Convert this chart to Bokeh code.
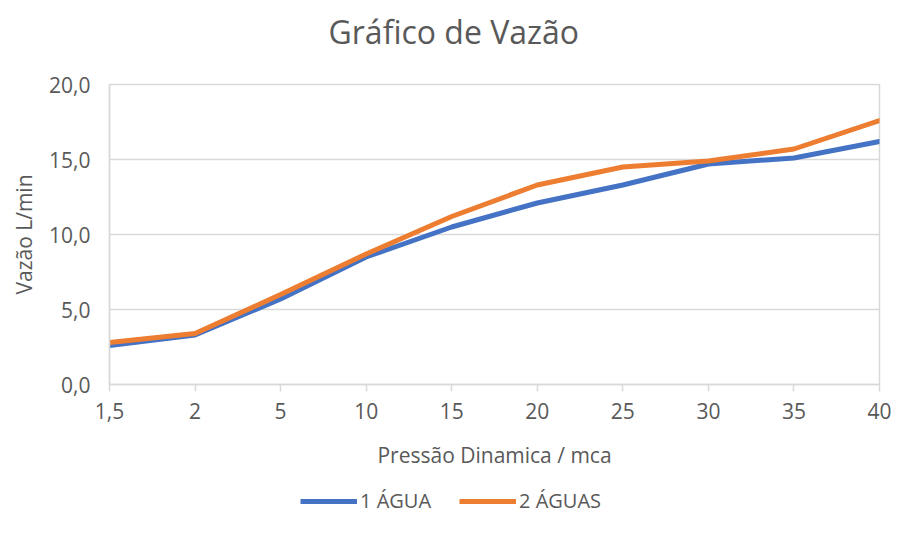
from bokeh.plotting import figure
from bokeh.layouts import column
from bokeh.models import (ColumnDataSource, FixedTicker, Legend, LegendItem,
                          Range1d, Title)
from bokeh.embed import file_html
from bokeh.resources import INLINE

# ---- data ----
pressures = ["1,5", "2", "5", "10", "15", "20", "25", "30", "35", "40"]
agua1 = [2.6, 3.3, 5.7, 8.5, 10.5, 12.1, 13.3, 14.7, 15.1, 16.2]
agua2 = [2.8, 3.4, 6.0, 8.7, 11.2, 13.3, 14.5, 14.9, 15.7, 17.6]
y_ticks = [0, 5, 10, 15, 20]
y_tick_labels = ["0,0", "5,0", "10,0", "15,0", "20,0"]
title_text = "Gráfico de Vazão"
x_title = "Pressão Dinamica / mca"
y_title = "Vazão L/min"
series_names = ["1 ÁGUA", "2 ÁGUAS"]

FONT = "Open Sans"
TXT = "#595959"
GRID = "#d9d9d9"
BLUE = "#4472C4"
ORANGE = "#ED7D31"
COLORS = [BLUE, ORANGE]

idx = list(range(len(pressures)))
src = ColumnDataSource(dict(x=idx, a1=agua1, a2=agua2))

p = figure(width=891, height=484, output_backend="svg", toolbar_location=None,
           x_range=Range1d(0, len(pressures) - 1), y_range=Range1d(0, 20),
           min_border_left=109, min_border_right=12, min_border_top=84,
           min_border_bottom=100)
p.background_fill_color = "white"
p.border_fill_color = "white"
p.outline_line_color = GRID
p.outline_line_width = 1.5
p.title.text = ""

# spacer between title and plot area, then the title itself
p.add_layout(Title(text=" ", text_font=FONT, text_font_size="22px",
                   standoff=0), "above")
p.add_layout(Title(text=title_text, align="left", offset=219,
                   text_font=FONT, text_font_size="32px",
                   text_font_style="normal", text_color=TXT, standoff=0),
             "above")

# axes
p.xaxis.ticker = FixedTicker(ticks=idx)
p.xaxis.major_label_overrides = {i: s for i, s in zip(idx, pressures)}
p.yaxis.ticker = FixedTicker(ticks=y_ticks)
p.yaxis.major_label_overrides = {t: s for t, s in zip(y_ticks, y_tick_labels)}
for ax in (p.xaxis, p.yaxis):
    ax.axis_line_color = GRID
    ax.axis_line_width = 1.5
    ax.major_tick_line_color = GRID
    ax.major_tick_line_width = 1.5
    ax.minor_tick_line_color = None
    ax.major_label_text_font = FONT
    ax.major_label_text_font_size = "21px"
    ax.major_label_text_color = TXT
    ax.axis_label_text_font = FONT
    ax.axis_label_text_font_size = "21px"
    ax.axis_label_text_font_style = "normal"
    ax.axis_label_text_color = TXT
p.xaxis.major_tick_in = 0
p.xaxis.major_tick_out = 7
p.xaxis.major_label_standoff = 11
p.yaxis.major_tick_in = 0
p.yaxis.major_tick_out = 0
p.yaxis.major_label_standoff = 19

p.xaxis.axis_label = x_title
p.xaxis.axis_label_standoff = 19
p.yaxis.axis_label = y_title
p.yaxis.axis_label_standoff = 8

p.xgrid.grid_line_color = None
p.ygrid.grid_line_color = GRID
p.ygrid.grid_line_width = 1.5

p.line("x", "a1", source=src, line_color=BLUE, line_width=5,
       line_join="round", line_cap="round")
p.line("x", "a2", source=src, line_color=ORANGE, line_width=5,
       line_join="round", line_cap="round")

# ---- legend strip below the chart (series drawn outside its visible range) ----
lf = figure(width=891, height=34, output_backend="svg", toolbar_location=None,
            x_range=Range1d(0, 1), y_range=Range1d(100, 101),
            min_border_left=0, min_border_right=0, min_border_top=0,
            min_border_bottom=0)
lf.axis.visible = False
lf.grid.grid_line_color = None
lf.outline_line_color = None
lf.background_fill_color = "white"
lf.border_fill_color = "white"
items = []
for name, col, key in zip(series_names, COLORS, ["a1", "a2"]):
    r = lf.line("x", key, source=src, line_color=col, line_width=5)
    items.append(LegendItem(label=name, renderers=[r]))
legend = Legend(items=items, orientation="horizontal", location=(191, 4),
                padding=0, margin=0, spacing=28, label_standoff=3,
                glyph_width=57, glyph_height=20, label_height=20,
                label_text_font=FONT, label_text_font_size="20px",
                label_text_color=TXT, border_line_color=None,
                background_fill_alpha=0)
lf.add_layout(legend)

layout = column(p, lf, spacing=0)
open("out.html", "w").write(file_html(layout, INLINE))
